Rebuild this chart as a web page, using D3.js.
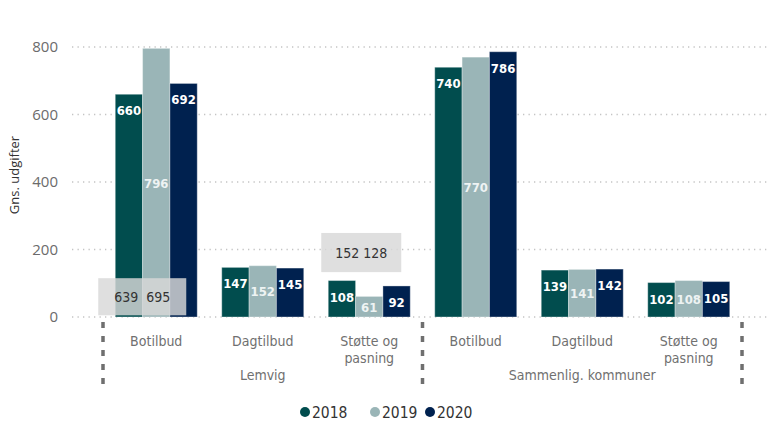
<!DOCTYPE html>
<html>
<head>
<meta charset="utf-8">
<script src="https://cdn.jsdelivr.net/npm/d3@7"></script>
<style>
  body { margin: 0; background: #fff; }
  svg { display: block; }
</style>
</head>
<body>
<script>
const groups = ["Lemvig", "Sammenlig. kommuner"];
const categories = ["Botilbud", "Dagtilbud", "Støtte og pasning"];
const years = ["2018", "2019", "2020"];
const values2018 = [660, 147, 108, 740, 139, 102];
const values2019 = [796, 152, 61, 770, 141, 108];
const values2020 = [692, 145, 92, 786, 142, 105];
const yTicks = [0, 200, 400, 600, 800];
const yTitle = "Gns. udgifter";
// grey hover-label boxes left in the screenshot
const overlayTexts = ["639  695", "152 128"];
const overlayCats = ["Lemvig|Botilbud", "Lemvig|Støtte og pasning"];
const overlayLow = [5, 133];
const overlayHigh = [115, 249];

const colors = {"2018": "#014d4e", "2019": "#9ab5b7", "2020": "#00214f"};
const condensed = "'DejaVu Sans Condensed', 'Liberation Sans Narrow', sans-serif";

const width = 767, height = 423;
const svg = d3.select(document.body).append('svg')
  .attr('width', width).attr('height', height);

const keys = [];
groups.forEach(g => categories.forEach(c => keys.push(g + '|' + c)));
const rows = keys.map((k, i) => ({
  key: k, group: k.split('|')[0], cat: k.split('|')[1],
  vals: [values2018[i], values2019[i], values2020[i]]
}));

const x0 = d3.scaleBand().domain(keys).range([103, 742])
  .paddingInner(0.23).paddingOuter(0.115);
const x1 = d3.scaleBand().domain(years).range([0, x0.bandwidth()]);
const y = d3.scaleLinear().domain([0, 800]).range([317, 47]);

// gridlines
svg.append('g').selectAll('line').data(yTicks).enter().append('line')
  .attr('x1', 72).attr('x2', width)
  .attr('y1', d => y(d)).attr('y2', d => y(d))
  .attr('stroke', '#c4c4c4').attr('stroke-width', 1.3)
  .attr('stroke-dasharray', '1.3,4.2');

// y axis
const yAxis = svg.append('g').attr('transform', 'translate(58,0)')
  .call(d3.axisLeft(y).tickValues(yTicks).tickSize(0).tickPadding(0));
yAxis.select('.domain').remove();
yAxis.selectAll('text')
  .attr('font-family', "'Open Sans', sans-serif").attr('font-size', 15)
  .attr('fill', '#6b6b6b');

svg.append('text')
  .attr('transform', 'translate(19,175) rotate(-90)')
  .attr('text-anchor', 'middle')
  .attr('font-family', "'Open Sans', sans-serif").attr('font-size', 13)
  .attr('fill', '#333').text(yTitle);

// bars
const grp = svg.append('g').selectAll('g').data(rows).enter().append('g')
  .attr('transform', d => `translate(${x0(d.key)},0)`);

grp.selectAll('rect').data(d => d.vals.map((v, i) => ({year: years[i], v}))).enter()
  .append('rect')
  .attr('x', d => x1(d.year)).attr('width', x1.bandwidth())
  .attr('y', d => y(d.v)).attr('height', d => y(0) - y(d.v))
  .attr('fill', d => colors[d.year])
  .attr('stroke', 'rgba(255,255,255,0.35)').attr('stroke-width', 1);

grp.selectAll('text.lbl').data(d => d.vals.map((v, i) => ({year: years[i], v}))).enter()
  .append('text').attr('class', 'lbl')
  .attr('x', d => x1(d.year) + x1.bandwidth() / 2)
  .attr('y', d => d.year === '2019' ? (y(d.v) + y(0)) / 2 + 5 : y(d.v) + 21)
  .attr('text-anchor', 'middle')
  .attr('font-family', condensed).attr('font-weight', 'bold').attr('font-size', 13)
  .attr('fill', d => d.year === '2019' ? '#eef3f3' : '#fff')
  .text(d => d.v);

// overlay boxes
const boxPad = [[-17, -11], [-7, -9]];
overlayTexts.forEach((t, i) => {
  const x = x0(overlayCats[i]) + boxPad[i][0];
  const w = x0.bandwidth() - boxPad[i][0] + boxPad[i][1];
  const yt = y(overlayHigh[i]), yb = y(overlayLow[i]);
  svg.append('rect').attr('x', x).attr('y', yt).attr('width', w).attr('height', yb - yt)
    .attr('fill', '#d8d8d8').attr('opacity', 0.82);
  svg.append('text').attr('x', x + w / 2).attr('y', (yt + yb) / 2 + 5)
    .attr('text-anchor', 'middle').attr('xml:space', 'preserve')
    .style('white-space', 'pre')
    .attr('font-family', condensed).attr('font-size', 14)
    .attr('fill', '#333').text(t);
});

// category labels
const catLab = svg.append('g').selectAll('text').data(rows).enter().append('text')
  .attr('x', d => x0(d.key) + x0.bandwidth() / 2)
  .attr('y', 346)
  .attr('text-anchor', 'middle')
  .attr('font-family', condensed).attr('font-size', 14)
  .attr('fill', '#707070');
catLab.each(function(d) {
  const words = d.cat === 'Støtte og pasning' ? ['Støtte og', 'pasning'] : [d.cat];
  d3.select(this).selectAll('tspan').data(words).enter().append('tspan')
    .attr('x', x0(d.key) + x0.bandwidth() / 2)
    .attr('dy', (w, i) => i === 0 ? 0 : 17)
    .text(w => w);
});

// group labels and separators
const step = x0.step();
const outer = x0.range()[0];
const groupWidth = step * categories.length;
groups.forEach((g, i) => {
  svg.append('text')
    .attr('x', outer + groupWidth * i + groupWidth / 2)
    .attr('y', 380).attr('text-anchor', 'middle')
    .attr('font-family', condensed).attr('font-size', 14)
    .attr('fill', '#707070').text(g);
});
d3.range(groups.length + 1).forEach(i => {
  const xs = outer + groupWidth * i;
  svg.append('line').attr('x1', xs).attr('x2', xs).attr('y1', 322).attr('y2', 385)
    .attr('stroke', '#6f6f6f').attr('stroke-width', 3.5)
    .attr('stroke-dasharray', '6,8');
});

// legend
const legX = [305, 375, 430];
const leg = svg.append('g').selectAll('g').data(years).enter().append('g')
  .attr('transform', (d, i) => `translate(${legX[i]},412)`);
leg.append('circle').attr('r', 5).attr('fill', d => colors[d]);
leg.append('text').attr('x', 7).attr('y', 5.5)
  .attr('font-family', condensed).attr('font-size', 15.5)
  .attr('fill', '#333').text(d => d);
</script>
</body>
</html>
